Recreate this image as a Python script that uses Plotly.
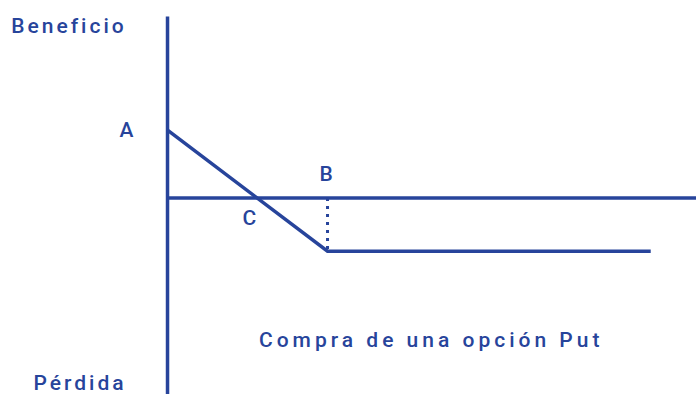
import plotly.graph_objects as go

# payoff of a long put (precio del subyacente vs beneficio)
precio = [0, 10, 30.2]
beneficio = [5.6, -4.4, -4.4]
strike = 10
prima = -4.4

AZUL = "#27449B"
FUENTE = "Roboto"

fig = go.Figure()

# axes drawn as lines
fig.add_trace(go.Scatter(x=[0, 0], y=[15.0, -16.5], mode="lines",
                         line=dict(color=AZUL, width=3.5), hoverinfo="skip"))
fig.add_trace(go.Scatter(x=[0, 34], y=[0, 0], mode="lines",
                         line=dict(color=AZUL, width=3.5), hoverinfo="skip"))
# dotted drop at strike
fig.add_trace(go.Scatter(x=[strike, strike], y=[0, prima], mode="lines",
                         line=dict(color=AZUL, width=3, dash="3px,5px"), hoverinfo="skip"))
# payoff
fig.add_trace(go.Scatter(x=precio, y=beneficio, mode="lines",
                         line=dict(color=AZUL, width=3.5), hoverinfo="skip"))

def label(txt, px, py, size=21):
    fig.add_annotation(text=txt, x=px / 696, y=1 - py / 394, xref="paper", yref="paper",
                       xanchor="center", yanchor="middle", showarrow=False,
                       font=dict(family=FUENTE, size=size, color=AZUL, weight=500))

label("Beneficio", 69, 26)
label("Pérdida", 80, 383)
label("A", 128, 130)
label("B", 327, 174)
label("C", 251, 218)
label("Compra de una opción Put", 431, 340)

fig.update_layout(
    width=696, height=394,
    margin=dict(l=0, r=0, t=0, b=0),
    plot_bgcolor="white", paper_bgcolor="white",
    showlegend=False,
    xaxis=dict(range=[-10.47, 33.03], visible=False, fixedrange=True),
    yaxis=dict(range=[-16.2, 16.36], visible=False, fixedrange=True),
)

# no page margin, and the wide letter spacing of the original
js = """
document.body.style.margin = '0px';
var t = document.querySelectorAll('.annotation-text');
t.forEach(function(e, i){ e.style.letterSpacing = (i == t.length - 1) ? '4px' : '3px'; });
"""
fig.write_html("out.html", post_script=js, config={"displayModeBar": False})
